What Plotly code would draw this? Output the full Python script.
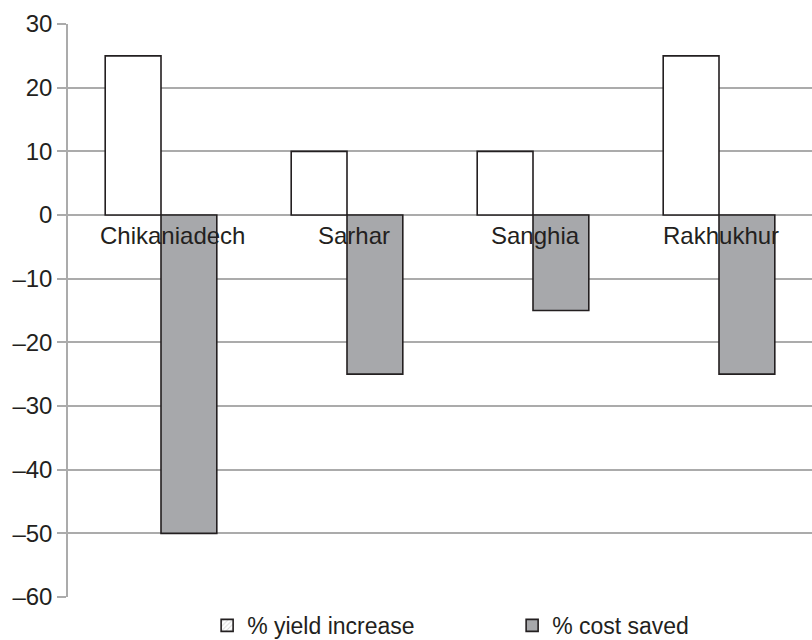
import plotly.graph_objects as go

villages = ["Chikaniadech", "Sarhar", "Sanghia", "Rakhukhur"]
yield_increase = [25, 10, 10, 25]
cost_saved = [-50, -25, -15, -25]
tick_vals = [30, 20, 10, 0, -10, -20, -30, -40, -50, -60]
tick_text = [str(v).replace("-", "\u2013") for v in tick_vals]

font = dict(family="Liberation Sans, Arial, sans-serif", size=24, color="#231f20")
legend_font = dict(family="Liberation Sans, Arial, sans-serif", size=23, color="#231f20")
edge = dict(color="#231f20", width=1.6)
grey = "#a7a8ab"

fig = go.Figure()
fig.add_trace(go.Bar(x=villages, y=yield_increase, name="% yield increase",
                     marker=dict(color="white", line=edge), showlegend=False))
fig.add_trace(go.Bar(x=villages, y=cost_saved, name="% cost saved",
                     marker=dict(color=grey, line=edge), showlegend=False))

# legend keys live on a hidden overlay axis so they take no bar slot
fig.add_trace(go.Bar(x=[0], y=[0], name="% yield increase",
                     xaxis="x2", yaxis="y2", hoverinfo="skip",
                     marker=dict(color="white", line=edge,
                                 pattern=dict(shape="/", fgcolor="#b0b0b0",
                                              bgcolor="white", size=4, solidity=0.3))))
fig.add_trace(go.Bar(x=[0], y=[0], name="% cost saved",
                     xaxis="x2", yaxis="y2", hoverinfo="skip",
                     marker=dict(color=grey, line=edge)))

# category names sit just under the zero line
label_nudge = [11, 7, 2, 2]
for v, dx in zip(villages, label_nudge):
    fig.add_annotation(x=v, y=0, text=v, showarrow=False, yanchor="top",
                       xshift=dx, yshift=-5, font=font)

fig.update_layout(
    width=812, height=640,
    margin=dict(l=68, r=0, t=24, b=43, autoexpand=False),
    paper_bgcolor="white", plot_bgcolor="white",
    barmode="group", bargap=0.4, bargroupgap=0,
    font=font,
    showlegend=True,
    legend=dict(orientation="h", x=0.187, xanchor="left", y=-0.012, yanchor="top",
                font=legend_font, entrywidth=260, entrywidthmode="pixels",
                itemwidth=30, traceorder="normal", tracegroupgap=0),
    xaxis=dict(showticklabels=False, showgrid=False, zeroline=False,
               showline=False, ticks=""),
    xaxis2=dict(overlaying="x", range=[10, 11], visible=False),
    yaxis2=dict(overlaying="y", range=[10, 11], visible=False),
    yaxis=dict(range=[-60, 30], tickvals=tick_vals, ticktext=tick_text,
               showgrid=True, gridcolor="#ababab", gridwidth=1.5,
               zeroline=False, showline=True, linecolor="#ababab", linewidth=1.5,
               ticks="outside", ticklen=9, tickcolor="#ababab", tickwidth=1.5,
               tickfont=font, ticklabelstandoff=0),
)

fig.write_html("out.html")
